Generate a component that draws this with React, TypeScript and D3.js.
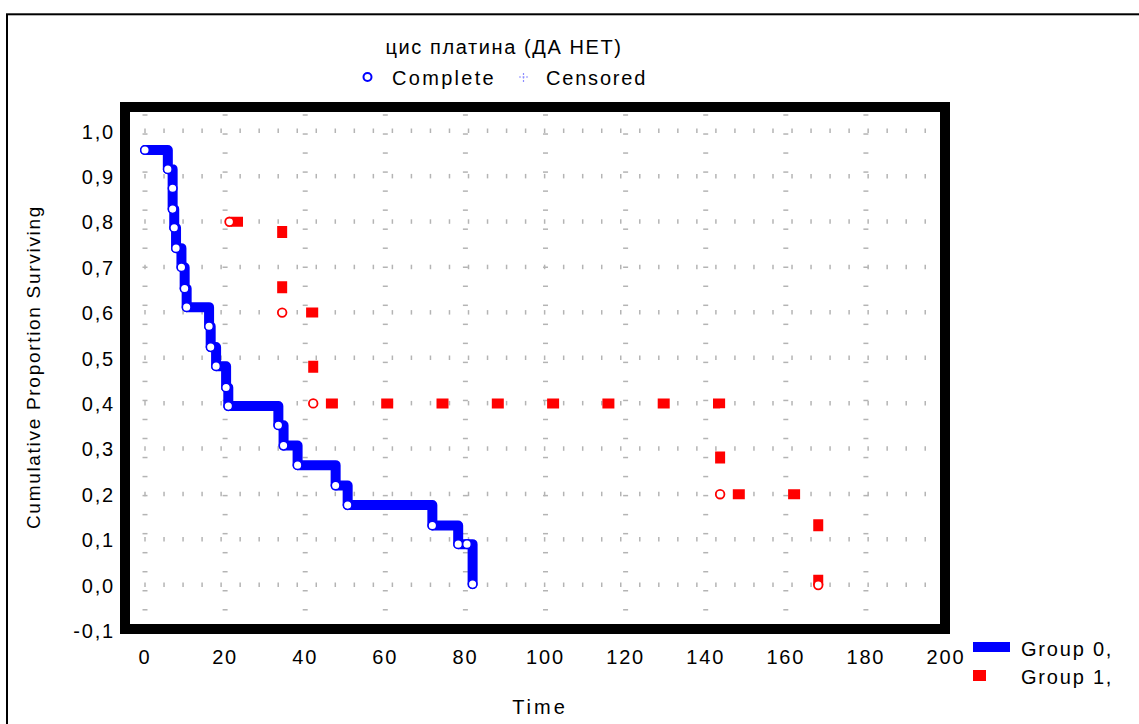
import React from "react";
import * as d3 from "d3";

// ---- data ----
const group0Times = [0, 5.7, 6.9, 6.9, 7.3, 7.75, 9.1, 9.9, 10.4, 16, 16.4, 17.75, 20.25, 20.8, 33.3, 34.6, 38.1, 47.6, 50.6, 71.75, 78.2, 80.4, 81.8];
const group0Surv = [0.958, 0.916, 0.874, 0.828, 0.787, 0.742, 0.7, 0.653, 0.612, 0.57, 0.524, 0.482, 0.435, 0.394, 0.352, 0.307, 0.264, 0.219, 0.176, 0.131, 0.09, 0.09, 0.002];
const group1Times = [21.1, 34.25, 42, 143.6, 168.1];
const group1Surv = [0.8, 0.6, 0.4, 0.2, 0.0];
const xTicks = [0, 20, 40, 60, 80, 100, 120, 140, 160, 180, 200];
const yTicks = [-0.1, 0, 0.1, 0.2, 0.3, 0.4, 0.5, 0.6, 0.7, 0.8, 0.9, 1.0];
const title = "цис платина (ДА НЕТ)";
const legendMarkers = ["Complete", "Censored"];
const groupNames = ["Group 0,", "Group 1,"];

const FONT = "'Liberation Sans', Arial, sans-serif";

export default function App() {
  const x = d3.scaleLinear().domain([0, 200]).range([145, 946]);
  const y = d3.scaleLinear().domain([0, 1]).range([585, 131]);
  const inner = { x0: 130, x1: 940, y0: 112, y1: 624 };

  const g0 = group0Times.map((t, i) => [t, group0Surv[i]] as [number, number]);
  const g1 = group1Times.map((t, i) => [t, group1Surv[i]] as [number, number]);
  const line = d3
    .line<[number, number]>()
    .x((d) => x(d[0]))
    .y((d) => y(d[1]))
    .curve(d3.curveStepAfter);

  const step = 19.03;
  // grid marks
  const rowMarks: JSX.Element[] = [];
  yTicks
    .filter((v) => v >= 0)
    .forEach((v, ri) => {
      for (let px = x(0); px < inner.x1 - 2; px += step) {
        rowMarks.push(
          <line key={`r${ri}-${px}`} x1={px} x2={px} y1={y(v) - 2.5} y2={y(v) + 2} stroke="#b4b4b4" strokeWidth={1.5} />
        );
      }
    });
  const colMarks: JSX.Element[] = [];
  xTicks
    .filter((v) => x(v) < inner.x1)
    .forEach((v, ci) => {
      for (let py = 115; py < inner.y1 - 2; py += step) {
        colMarks.push(
          <line key={`c${ci}-${py}`} x1={x(v) - 2.5} x2={x(v) + 2.5} y1={py} y2={py} stroke="#b4b4b4" strokeWidth={1.5} />
        );
      }
    });

  return (
    <svg
      width={1139}
      height={724}
      style={{ position: "absolute", left: 0, top: 0, background: "#fff" }}
      fontFamily={FONT}
    >
      <rect x={0} y={0} width={1139} height={724} fill="#fff" />
      {/* outer frame */}
      <rect x={7} y={14.3} width={1300} height={900} fill="none" stroke="#000" strokeWidth={2} />

      {/* title & marker legend */}
      <text x={504} y={54} textAnchor="middle" fontSize={20} letterSpacing={1.6}>
        {title}
      </text>
      <circle cx={367.5} cy={77} r={4} fill="#fff" stroke="#0000ff" strokeWidth={2} />
      <text x={392} y={85} fontSize={20} letterSpacing={2.3}>
        {legendMarkers[0]}
      </text>
      <g stroke="#8c8cff" strokeWidth={1.2}>
        <line x1={519} x2={528} y1={77} y2={77} strokeDasharray="2 1.5" />
        <line x1={523.5} x2={523.5} y1={73} y2={82} strokeDasharray="2 1.5" />
      </g>
      <text x={546} y={85} fontSize={20} letterSpacing={1.8}>
        {legendMarkers[1]}
      </text>

      {/* grid */}
      <g>{rowMarks}</g>
      <g>{colMarks}</g>

      {/* plot frame */}
      <rect x={125} y={107} width={820} height={522} fill="none" stroke="#000" strokeWidth={10} />

      {/* y ticks */}
      {yTicks.map((v) => (
        <text key={`yt${v}`} x={115} y={y(v) + 7.5} textAnchor="end" fontSize={20} letterSpacing={1.8}>
          {d3.format(".1f")(v).replace(".", ",").replace("−", "-")}
        </text>
      ))}
      {/* x ticks */}
      {xTicks.map((v) => (
        <text key={`xt${v}`} x={x(v)} y={664} textAnchor="middle" fontSize={20} letterSpacing={1.8}>
          {v}
        </text>
      ))}

      {/* axis titles */}
      <text x={540} y={714} textAnchor="middle" fontSize={20} letterSpacing={3}>
        Time
      </text>
      <text transform="translate(40,367) rotate(-90)" textAnchor="middle" fontSize={19} letterSpacing={1.7}>
        Cumulative Proportion Surviving
      </text>

      {/* group 0 curve */}
      <path d={line(g0) || ""} fill="none" stroke="#0000ff" strokeWidth={10} strokeLinejoin="round" strokeLinecap="round" />
      {/* group 1 curve (dashed) */}
      <path
        d={line(g1) || ""}
        fill="none"
        stroke="#ff0000"
        strokeWidth={10}
        strokeDasharray="12 43.3"
        strokeDashoffset={-1.5}
        strokeLinejoin="miter"
      />
      {g0.map((d, i) => (
        <circle key={`b${i}`} cx={x(d[0])} cy={y(d[1])} r={4.3} fill="#fff" stroke="#0000ff" strokeWidth={1.5} />
      ))}
      {g1.map((d, i) => (
        <circle key={`r${i}`} cx={x(d[0])} cy={y(d[1])} r={4.3} fill="#fff" stroke="#ff0000" strokeWidth={1.8} />
      ))}

      {/* group legend */}
      <line x1={973} x2={1010} y1={647} y2={647} stroke="#0000ff" strokeWidth={10} />
      <text x={1021} y={656} fontSize={20} letterSpacing={1.8}>
        {groupNames[0]}
      </text>
      <line x1={973} x2={986} y1={675.5} y2={675.5} stroke="#ff0000" strokeWidth={11} />
      <text x={1021} y={684} fontSize={20} letterSpacing={1.8}>
        {groupNames[1]}
      </text>
    </svg>
  );
}
